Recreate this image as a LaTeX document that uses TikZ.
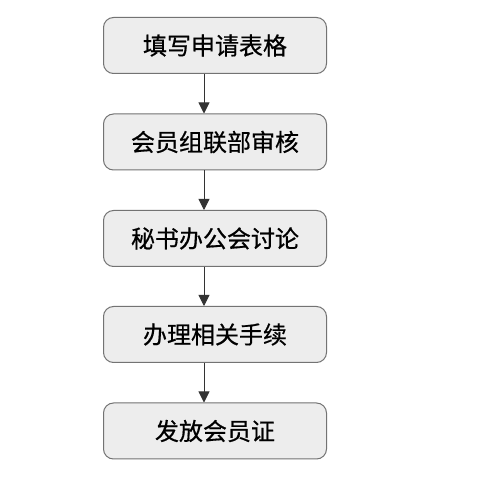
\documentclass[tikz,border=0pt]{standalone}
\usepackage{fontspec}
\newfontfamily\cjk[FakeBold=0.6]{Noto Sans CJK SC}
\usetikzlibrary{arrows.meta}
\begin{document}
\begin{tikzpicture}[x=1pt,y=1pt,
  stepbox/.style={draw=black!55, line width=1pt, fill=black!7, rounded corners=10pt,
    minimum width=223pt, minimum height=56pt, inner sep=0pt, font=\cjk\fontsize{24}{28}\selectfont},
  flow/.style={draw=black!80, line width=0.9pt, -{Triangle[width=11pt,length=11pt]}}]
\useasboundingbox (0,0) rectangle (477,480);
\fill[white] (0,0) rectangle (477,480);
\coordinate (ax) at (204,0);
\node[stepbox] (s1) at (215,434.5) {填写申请表格};
\node[stepbox] (s2) at (215,338) {会员组联部审核};
\node[stepbox] (s3) at (215,241.5) {秘书办公会讨论};
\node[stepbox] (s4) at (215,145.5) {办理相关手续};
\node[stepbox] (s5) at (215,49) {发放会员证};
\draw[flow] (s1.south -| ax) -- (s2.north -| ax);
\draw[flow] (s2.south -| ax) -- (s3.north -| ax);
\draw[flow] (s3.south -| ax) -- (s4.north -| ax);
\draw[flow] (s4.south -| ax) -- (s5.north -| ax);
\end{tikzpicture}
\end{document}
